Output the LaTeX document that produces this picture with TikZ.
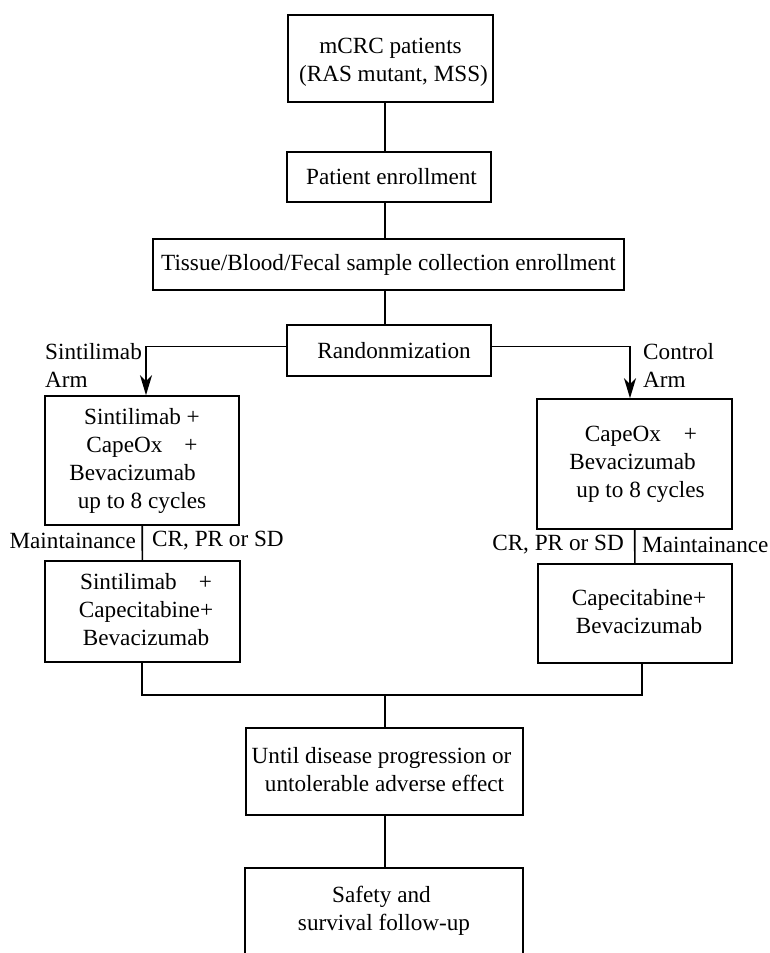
\documentclass[tikz,border=0pt]{standalone}
\usepackage{fontspec}
\setmainfont{Liberation Serif}
\usetikzlibrary{arrows.meta,calc}
\newcommand\mainsz{\fontsize{23.2}{28}\selectfont}
\newcommand\stk[1]{\begin{tabular}{@{}c@{}}#1\end{tabular}}
\newcommand\stkl[1]{\begin{tabular}{@{}l@{}}#1\end{tabular}}
\begin{document}
\begin{tikzpicture}[x=1pt,y=-1pt,
  box/.style={draw, line width=1.6pt, inner sep=0pt, font=\mainsz},
  lab/.style={inner sep=0pt, font=\mainsz},
  edge/.style={line width=1.6pt},
  arr/.style={line width=1.6pt, -{Stealth[length=20pt,width=12pt,inset=6pt]}}]
\useasboundingbox[fill=white] (0,0) rectangle (769,953);

% main boxes
\node[box, minimum width=205pt, minimum height=87pt] (P1) at (390.5,58.5)
  {\stk{\rule{0pt}{26.5pt}mCRC patients\\\hspace*{6pt}(RAS mutant, MSS)}};
\node[box, minimum width=204pt, minimum height=50pt] (P2) at (389,177)
  {\hspace*{5pt}Patient enrollment};
\node[box, minimum width=471pt, minimum height=51pt] (P3) at (388.5,264.5)
  {Tissue/Blood/Fecal sample collection enrollment};
\node[box, minimum width=204pt, minimum height=51pt] (R) at (389,350.5)
  {\hspace*{10pt}Randonmization};

\node[box, minimum width=194pt, minimum height=129pt] (A) at (142,460.5)
  {\stk{Sintilimab +\\CapeOx\hspace{22pt}+\\Bevacizumab\hspace*{19pt}\\up to 8 cycles}};
\node[box, minimum width=195pt, minimum height=130pt] (B) at (634.5,464)
  {\stk{\hspace*{13pt}CapeOx\hspace{23pt}+\\Bevacizumab\hspace*{4pt}\\\hspace*{12pt}up to 8 cycles}};

\node[box, minimum width=195pt, minimum height=101pt] (C) at (142.5,611.5)
  {\stk{\hspace*{7pt}Sintilimab\hspace{22pt}+\\\hspace*{7pt}Capecitabine+\\\hspace*{7pt}Bevacizumab}};
\node[box, minimum width=194pt, minimum height=99pt] (D) at (635,613.5)
  {\stk{\hspace*{8pt}Capecitabine+\\\hspace*{8pt}Bevacizumab}};

\node[box, minimum width=277pt, minimum height=87pt] (E) at (384.5,771.5)
  {\stk{\hspace*{-6pt}Until disease progression or\\untolerable adverse effect}};
\node[box, draw=none, minimum width=276pt, minimum height=84pt] (F) at (384,911)
  {\stk{\hspace*{-5pt}Safety and\\survival follow-up}};
\draw[edge] (F.south west) -- (F.north west) -- (F.north east) -- (F.south east);

% side labels
\node[lab, anchor=west] (lsa) at (45,368) {\stkl{Sintilimab\\Arm}};
\node[lab, anchor=west] (lca) at (643,368) {\stkl{Control\\Arm}};
\node[lab, anchor=east] (lm1) at (136,541) {Maintainance};
\node[lab, anchor=west] (lc1) at (152,541) {CR, PR or SD};
\node[lab, anchor=east] (lc2) at (624,545) {CR, PR or SD};
\node[lab, anchor=west] (lm2) at (642,545) {Maintainance};

% helper coordinates
\coordinate (mx) at (385,0);
\coordinate (hy) at (0,346.5);
\coordinate (al) at (146,0);
\coordinate (ar) at (630,0);
\coordinate (jl) at (142,695);
\coordinate (jr) at (642,695);

% connectors
\draw[edge] (P1.south -| mx) -- (P2.north -| mx);
\draw[edge] (P2.south -| mx) -- (P3.north -| mx);
\draw[edge] (P3.south -| mx) -- (R.north -| mx);
\draw[arr] (R.west |- hy) -- (al |- hy) -- (al |- A.north);
\draw[arr] (R.east |- hy) -- (ar |- hy) -- (ar |- B.north);
\draw[edge] (A) -- (C);
\draw[edge] (B) -- (D);
\draw[edge] (C.south -| jl) -- (jl) -- (jr) -- (jr |- D.south);
\draw[edge] (E.north -| mx) -- (jl -| mx);
\draw[edge] (E.south -| mx) -- (F.north -| mx);
\end{tikzpicture}
\end{document}
